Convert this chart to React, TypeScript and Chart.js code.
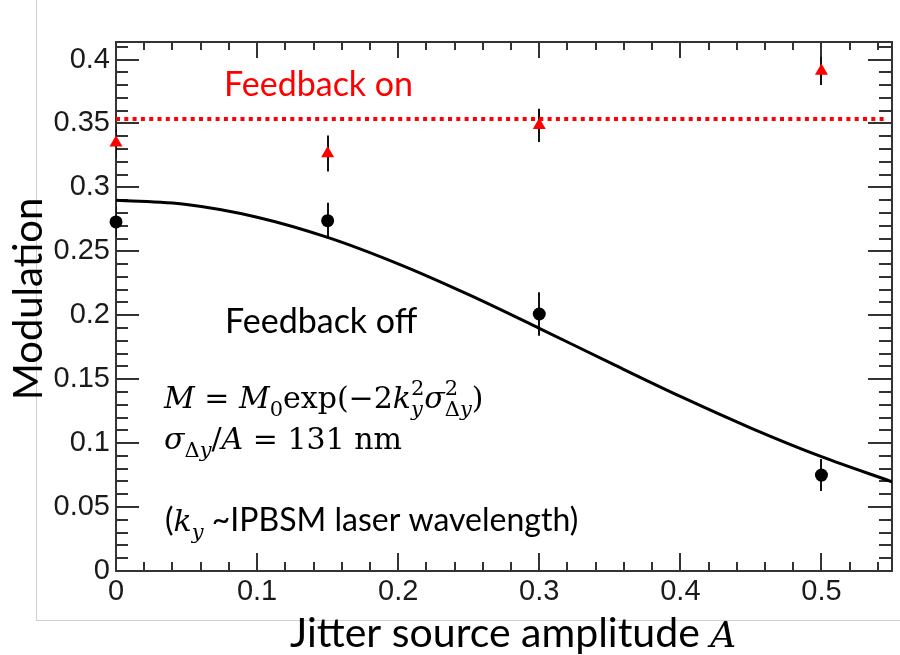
import React, { useEffect, useRef } from 'react';
import { Chart, registerables } from 'chart.js';

Chart.register(...registerables);

// ---- axes ----
const xTickValues = [0, 0.1, 0.2, 0.3, 0.4, 0.5];
const xTickLabels = ['0', '0.1', '0.2', '0.3', '0.4', '0.5'];
const yTickValues = [0, 0.05, 0.1, 0.15, 0.2, 0.25, 0.3, 0.35, 0.4];
const yTickLabels = ['0', '0.05', '0.1', '0.15', '0.2', '0.25', '0.3', '0.35', '0.4'];
const xRange = [0, 0.55];
const yRange = [0, 0.4137];
const xMinorStep = 0.02;
const yMinorStep = 0.01;

// ---- data ----
const amplitudes = [0, 0.15, 0.3, 0.5];
const feedbackOff = [0.273, 0.274, 0.201, 0.075];
const feedbackOffErr = [0.012, 0.014, 0.017, 0.0125];
const feedbackOn = [0.335, 0.3265, 0.3485, 0.391];
const feedbackOnErr = [0.012, 0.014, 0.013, 0.011];
const fitAmplitude = [0, 0.05, 0.1, 0.15, 0.2, 0.25, 0.3, 0.35, 0.4, 0.45, 0.5, 0.55];
const fitModulation = [0.29, 0.2866, 0.2767, 0.2609, 0.2402, 0.2161, 0.1898, 0.1629, 0.1365, 0.1118, 0.0894, 0.0698];
const feedbackOnLevel = 0.3535;
const levelAmplitude = [0, 0.545];

// ---- text ----
const SANS = 'Lato';
const SERIF = '"DejaVu Serif"';
const RI = `italic 30px ${SERIF}`;
const RR = `30px ${SERIF}`;
const SI = `italic 21px ${SERIF}`;
const SR = `21px ${SERIF}`;

type Piece = { t: string; f: string };
type Seg = Piece | { sup?: Piece[]; sub?: Piece[] };

function drawPieces(ctx: CanvasRenderingContext2D, pieces: Piece[], x: number, y: number) {
  let w = 0;
  for (const p of pieces) {
    ctx.font = p.f;
    ctx.fillText(p.t, x + w, y);
    w += ctx.measureText(p.t).width;
  }
  return w;
}

function drawSegs(ctx: CanvasRenderingContext2D, segs: Seg[], x: number, y: number, supDy: number, subDy: number) {
  let cx = x;
  for (const s of segs) {
    if ('t' in s) {
      ctx.font = s.f;
      ctx.fillText(s.t, cx, y);
      cx += ctx.measureText(s.t).width;
    } else {
      let w = 0;
      if (s.sup) w = Math.max(w, drawPieces(ctx, s.sup, cx, y - supDy));
      if (s.sub) w = Math.max(w, drawPieces(ctx, s.sub, cx, y + subDy));
      cx += w;
    }
  }
  return cx;
}

const formula1: Seg[] = [
  { t: 'M', f: RI },
  { t: ' = ', f: RR },
  { t: 'M', f: RI },
  { sub: [{ t: '0', f: SR }] },
  { t: 'exp(−2', f: RR },
  { t: 'k', f: RI },
  { sup: [{ t: '2', f: SR }], sub: [{ t: 'y', f: SI }] },
  { t: 'σ', f: RI },
  { sup: [{ t: '2', f: SR }], sub: [{ t: 'Δ', f: SR }, { t: 'y', f: SI }] },
  { t: ')', f: RR },
];
const formula2: Seg[] = [
  { t: 'σ', f: RI },
  { sub: [{ t: 'Δ', f: SR }, { t: 'y', f: SI }] },
  { t: '/', f: RR },
  { t: 'A', f: RI },
  { t: ' = 131 nm', f: RR },
];
const formula3: Seg[] = [
  { t: '(', f: `32px ${SANS}` },
  { t: 'k', f: RI },
  { sub: [{ t: 'y', f: SI }] },
  { t: ' ~IPBSM laser wavelength)', f: `32px ${SANS}` },
];

const framePlugin = {
  id: 'frameTicks',
  beforeDatasetsDraw(chart: any) {
    const { ctx, chartArea: a, scales } = chart;
    const xs = scales.x;
    const ys = scales.y;
    ctx.save();
    // slide border lines
    ctx.strokeStyle = '#cfcfcf';
    ctx.lineWidth = 1;
    ctx.beginPath();
    ctx.moveTo(36.5, 0);
    ctx.lineTo(36.5, 620.5);
    ctx.lineTo(900, 620.5);
    ctx.stroke();

    ctx.strokeStyle = '#333';
    ctx.lineWidth = 2;
    ctx.strokeRect(a.left, a.top, a.right - a.left, a.bottom - a.top);
    ctx.beginPath();
    for (let i = 0; i * yMinorStep <= yRange[1] + 1e-9; i++) {
      const py = Math.round(ys.getPixelForValue(i * yMinorStep));
      const major = i % 5 === 0;
      const lenL = major ? 23 : 12;
      const lenR = major ? 24 : 13;
      ctx.moveTo(a.left, py);
      ctx.lineTo(a.left + lenL, py);
      ctx.moveTo(a.right, py);
      ctx.lineTo(a.right - lenR, py);
    }
    for (let i = 0; i * xMinorStep <= xRange[1] + 1e-9; i++) {
      const px = Math.round(xs.getPixelForValue(i * xMinorStep));
      const major = i % 5 === 0;
      const lenB = major ? 18 : 9;
      const lenT = major ? 16 : 8;
      ctx.moveTo(px, a.bottom);
      ctx.lineTo(px, a.bottom - lenB);
      ctx.moveTo(px, a.top);
      ctx.lineTo(px, a.top + lenT);
    }
    ctx.stroke();

    // error bars
    ctx.save();
    ctx.beginPath();
    ctx.rect(a.left, a.top, a.right - a.left, a.bottom - a.top);
    ctx.clip();
    ctx.strokeStyle = '#111';
    ctx.lineWidth = 2;
    ctx.beginPath();
    const bars = (vals: number[], errs: number[]) => {
      amplitudes.forEach((x, i) => {
        const px = Math.round(xs.getPixelForValue(x));
        ctx.moveTo(px, ys.getPixelForValue(vals[i] - errs[i]));
        ctx.lineTo(px, ys.getPixelForValue(vals[i] + errs[i]));
      });
    };
    bars(feedbackOff, feedbackOffErr);
    bars(feedbackOn, feedbackOnErr);
    ctx.stroke();
    ctx.restore();
    ctx.restore();
  },
  afterDraw(chart: any) {
    const { ctx } = chart;
    ctx.save();
    ctx.textBaseline = 'alphabetic';
    ctx.textAlign = 'left';
    ctx.fillStyle = '#ff0000';
    ctx.font = `34px ${SANS}`;
    ctx.fillText('Feedback on', 224, 96);
    ctx.fillStyle = '#000';
    ctx.fillText('Feedback off', 225, 333);

    drawSegs(ctx, formula1, 164, 408, 13, 8);
    drawSegs(ctx, formula2, 164, 449, 13, 8);
    drawSegs(ctx, formula3, 165, 531, 13, 8);

    // x title
    ctx.font = `41px ${SANS}`;
    const t = 'Jitter source amplitude ';
    ctx.fillText(t, 290, 647);
    const w = ctx.measureText(t).width;
    ctx.font = `italic 36px ${SERIF}`;
    ctx.fillText('A', 290 + w, 647);

    // y title
    ctx.translate(42, 299);
    ctx.rotate(-Math.PI / 2);
    ctx.textAlign = 'center';
    ctx.font = `40px ${SANS}`;
    ctx.fillText('Modulation', 0, 0);
    ctx.restore();
  },
};

export default function App() {
  const ref = useRef<HTMLCanvasElement>(null);
  useEffect(() => {
    const chart = new Chart(ref.current!, {
      type: 'scatter',
      data: {
        datasets: [
          {
            label: 'Feedback on',
            data: amplitudes.map((x, i) => ({ x, y: feedbackOn[i] })),
            pointStyle: 'triangle',
            pointRadius: 7.5,
            backgroundColor: '#ff0000',
            borderColor: '#ff0000',
            borderWidth: 0,
            clip: false,
          },
          {
            label: 'Feedback off',
            data: amplitudes.map((x, i) => ({ x, y: feedbackOff[i] })),
            pointStyle: 'circle',
            pointRadius: 6.5,
            backgroundColor: '#000',
            borderColor: '#000',
            borderWidth: 0,
            clip: false,
          },
          {
            label: 'Fit',
            data: fitAmplitude.map((x, i) => ({ x, y: fitModulation[i] })),
            showLine: true,
            cubicInterpolationMode: 'monotone',
            borderColor: '#000',
            borderWidth: 3,
            pointRadius: 0,
          },
          {
            label: 'Feedback on level',
            data: levelAmplitude.map((x) => ({ x, y: feedbackOnLevel })),
            showLine: true,
            borderColor: '#ff0000',
            borderWidth: 4,
            borderDash: [4, 4.3],
            borderCapStyle: 'butt',
            pointRadius: 0,
          },
        ] as any,
      },
      options: {
        responsive: false,
        devicePixelRatio: 1,
        animation: false,
        layout: { padding: { top: 42, right: 8, left: 0, bottom: 0 } },
        plugins: { legend: { display: false }, tooltip: { enabled: false } },
        scales: {
          x: {
            type: 'linear',
            min: xRange[0],
            max: xRange[1],
            grid: { display: false, drawTicks: false },
            border: { display: false },
            afterBuildTicks: (s: any) => {
              s.ticks = xTickValues.map((value) => ({ value }));
            },
            afterFit: (s: any) => {
              s.height = 84;
            },
            ticks: {
              autoSkip: false,
              maxRotation: 0,
              padding: 4,
              color: '#1a1a1a',
              font: { family: '"Liberation Sans", Arial, sans-serif', size: 29 },
              callback: (_v: any, i: number) => xTickLabels[i],
            },
          },
          y: {
            type: 'linear',
            min: yRange[0],
            max: yRange[1],
            grid: { display: false, drawTicks: false },
            border: { display: false },
            afterBuildTicks: (s: any) => {
              s.ticks = yTickValues.map((value) => ({ value }));
            },
            afterFit: (s: any) => {
              s.width = 116;
            },
            ticks: {
              autoSkip: false,
              padding: 6,
              color: '#1a1a1a',
              font: { family: '"Liberation Sans", Arial, sans-serif', size: 29 },
              callback: (_v: any, i: number) => yTickLabels[i],
            },
          },
        },
      } as any,
      plugins: [framePlugin],
    });
    return () => chart.destroy();
  }, []);
  return (
    <div style={{ position: 'absolute', left: 0, top: 0, width: 900, height: 655, background: '#fff' }}>
      <canvas ref={ref} width={900} height={655} style={{ display: 'block', width: 900, height: 655 }} />
    </div>
  );
}
